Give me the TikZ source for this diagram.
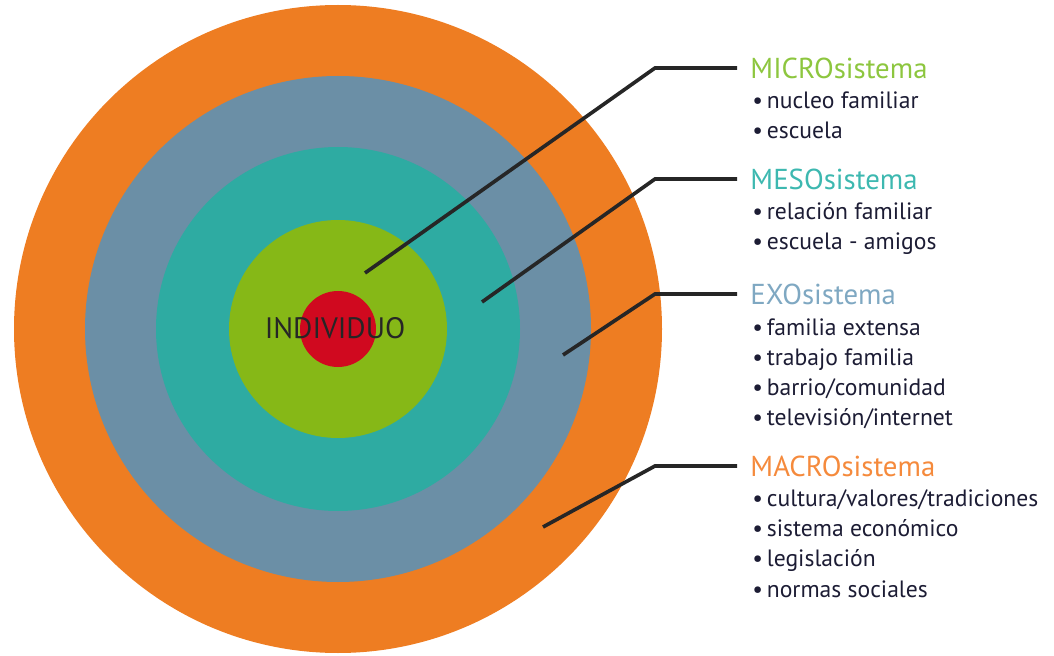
\documentclass[tikz,border=0pt]{standalone}
\usepackage{fontspec}
\setmainfont{PT Sans}
\usetikzlibrary{positioning}
\definecolor{macrocol}{HTML}{EE7D22}
\definecolor{exocol}{HTML}{6B8FA6}
\definecolor{mesocol}{HTML}{2EABA2}
\definecolor{microcol}{HTML}{86B817}
\definecolor{indcol}{HTML}{D0091F}
\definecolor{macrotxt}{HTML}{F58A3C}
\definecolor{exotxt}{HTML}{7FA8C2}
\definecolor{mesotxt}{HTML}{3DB8B0}
\definecolor{microtxt}{HTML}{8DC63F}
\definecolor{texto}{HTML}{1C1C34}
\tikzset{
  titulo/.style={anchor=west, inner xsep=0.33cm, inner ysep=0pt, font=\fontsize{20.5}{22}\selectfont},
  item/.style={anchor=base west, inner sep=0pt, text=texto, font=\fontsize{16.8}{18}\selectfont},
  guia/.style={line width=2.6pt, black!85},
}
\begin{document}
\begin{tikzpicture}[x=0.025cm, y=-0.025cm]
  \useasboundingbox (0,0) rectangle (1054,656);
  \coordinate (centro) at (338,329);
  % anillos
  \fill[macrocol] (centro) circle (324);
  \fill[exocol]   (centro) circle (253);
  \fill[mesocol]  (centro) circle (182);
  \fill[microcol] (centro) circle (109);
  \fill[indcol]   (centro) circle (38);
  \node (individuo) at (335,328) [text=black!85, font=\fontsize{21}{24}\selectfont] {INDIVIDUO};
  % titulos
  \node[titulo, text=microtxt] (micro) at (737,68)  {MICROsistema};
  \node[titulo, text=mesotxt]  (meso)  at (737,179) {MESOsistema};
  \node[titulo, text=exotxt]   (exo)   at (737,294) {EXOsistema};
  \node[titulo, text=macrotxt] (macro) at (737,466) {MACROsistema};
  % listas
  \foreach \t [count=\i] in {nucleo familiar, escuela}
    \node[item] (micro-\i) at (752,79+30*\i) {\textbullet\,\t};
  \foreach \t [count=\i] in {relación familiar, escuela - amigos}
    \node[item] (meso-\i) at (752,190+30*\i) {\textbullet\,\t};
  \foreach \t [count=\i] in {familia extensa, trabajo familia, barrio/comunidad, televisión/internet}
    \node[item] (exo-\i) at (752,305+30*\i) {\textbullet\,\t};
  \foreach \t [count=\i] in {cultura/valores/tradiciones, sistema económico, legislación, normas sociales}
    \node[item] (macro-\i) at (752,476+30.3*\i) {\textbullet\,\t};
  % guias
  \coordinate (microfin) at (365,273);
  \coordinate (mesofin)  at (482,302);
  \coordinate (exofin)   at (563,355);
  \coordinate (macrofin) at (543,527);
  \coordinate (microcodo) at (655,68);
  \coordinate (mesocodo)  at (655,179);
  \coordinate (exocodo)   at (655,294);
  \coordinate (macrocodo) at (655,466);
  \draw[guia] (microfin) -- (microcodo) -- (micro.west);
  \draw[guia] (mesofin) -- (mesocodo) -- (meso.west);
  \draw[guia] (exofin) -- (exocodo) -- (exo.west);
  \draw[guia] (macrofin) -- (macrocodo) -- (macro.west);
\end{tikzpicture}
\end{document}
